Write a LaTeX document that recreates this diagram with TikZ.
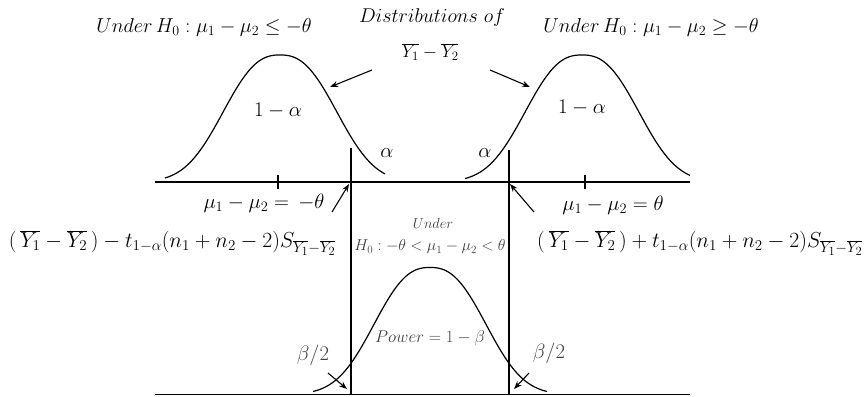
\documentclass[tikz,border=0pt]{standalone}
\usepackage{graphicx}
\usetikzlibrary{arrows.meta}
\begin{document}
\begin{tikzpicture}[x=1pt,y=-1pt,
  axisline/.style={line width=1.8pt},
  curve/.style={line width=1.2pt, smooth},
  ptr/.style={line width=1.1pt, -{Stealth[length=8pt,width=6pt]}},
  big/.style={font=\fontsize{20.74}{24}\selectfont, inner sep=0pt},
  small/.style={font=\fontsize{17.28}{20}\selectfont, inner sep=0pt, text=black!75}]
\useasboundingbox (0,0) rectangle (864,396);
% axes
\draw[axisline] (155,182) -- (690,182);
\draw[axisline] (155,394.5) -- (690,394.5);
% curves
\draw[curve, domain=-115:105, samples=90] plot ({280+\x},{182-127*exp(-1*(abs(\x)/70)^2.5)});
\draw[curve, domain=-117:108, samples=90] plot ({582+\x},{182-127*exp(-1*(abs(\x)/70)^2.5)});
\draw[curve, domain=-117:117, samples=90] plot ({430+\x},{394.5-127*exp(-1*(abs(\x)/69)^2.5)});
% ticks
\draw[line width=1.6pt] (278,175) -- (278,189);
\draw[line width=1.6pt] (585,175) -- (585,189);
% vertical critical lines
\draw[axisline] (351,148) -- (351,395);
\draw[axisline] (509,150) -- (509,395);
% labels
\node[big] (tl) at (204,27) {\scalebox{0.974}{$Under\,H_0 : \mu_1 - \mu_2 \leq - \theta$}};
\node[big] (tr) at (651,27) {\scalebox{0.974}{$Under\,H_0 : \mu_1 - \mu_2 \geq - \theta$}};
\node[big] (d1) at (432,18) {\scalebox{0.96}{$Distributions\ of$}};
\node[big] (d2) at (430,52) {\scalebox{0.89}{$\overline{Y_1} - \overline{Y_2}$}};
\node[big] (oml) at (278,111) {$1 - \alpha$};
\node[big] (omr) at (582,108) {$1 - \alpha$};
\node[big] (al) at (387,153) {$\alpha$};
\node[big] (ar) at (485,153) {$\alpha$};
\node[big] (ml) at (264,203) {$\mu_1 - \mu_2 = \, -\theta$};
\node[big] (mr) at (613,205) {$\mu_1 - \mu_2 = \theta$};
\node[big, anchor=east] (fl) at (336,243) {\scalebox{1.046}{$(\,\overline{Y_1} - \overline{Y_2}\,) - t_{1-\alpha}(n_1 + n_2 - 2) S_{\overline{Y_1} - \overline{Y_2}}$}};
\node[big, anchor=west] (fr) at (537,243) {\scalebox{1.046}{$(\,\overline{Y_1} - \overline{Y_2}\,) + t_{1-\alpha}(n_1 + n_2 - 2) S_{\overline{Y_1} - \overline{Y_2}}$}};
\node[small, font=\fontsize{14.4}{17}\selectfont] (un) at (433,223) {$Under$};
\node[small] (hm) at (430,247) {\scalebox{0.92}{$H_0 : -\theta < \mu_1 - \mu_2 < \theta$}};
\node[small] (pw) at (430,338) {\scalebox{0.984}{$Power = 1 - \beta$}};
\node[big, text=black!75] (bl) at (313,355) {$\beta/2$};
\node[big, text=black!75] (br) at (549,353) {$\beta/2$};
% arrow coordinates
\coordinate (a1s) at (372,70); \coordinate (a1e) at (330,87);
\coordinate (a2s) at (490,70); \coordinate (a2e) at (530,87);
\coordinate (a3s) at (332,212); \coordinate (a3e) at (349,184);
\coordinate (a4s) at (534,212); \coordinate (a4e) at (510,184);
\coordinate (a5s) at (328,373); \coordinate (a5e) at (347,389);
\coordinate (a6s) at (529,373); \coordinate (a6e) at (514,389);
\draw[ptr] (a1s) -- (a1e);
\draw[ptr] (a2s) -- (a2e);
\draw[ptr] (a3s) -- (a3e);
\draw[ptr] (a4s) -- (a4e);
\draw[ptr] (a5s) -- (a5e);
\draw[ptr] (a6s) -- (a6e);
\end{tikzpicture}
\end{document}
